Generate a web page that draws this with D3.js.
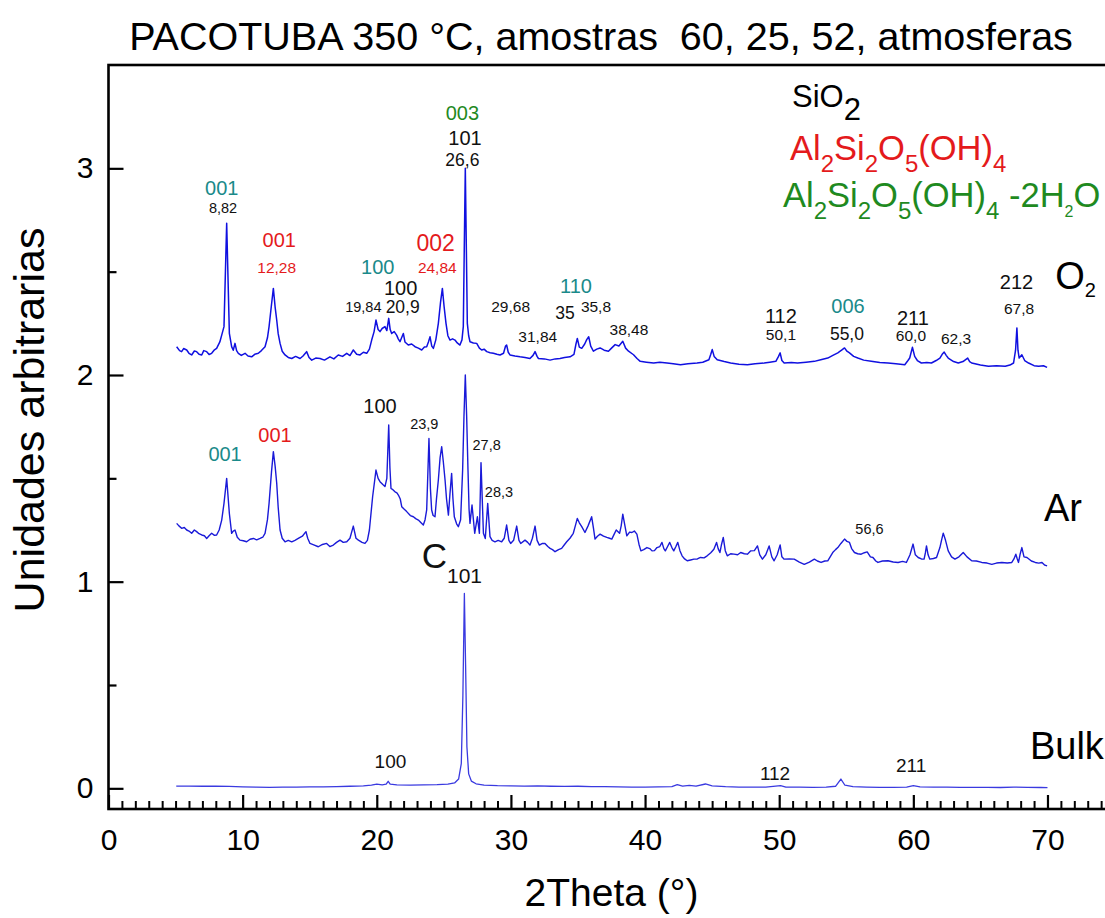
<!DOCTYPE html>
<html>
<head>
<meta charset="utf-8">
<script src="https://cdn.jsdelivr.net/npm/d3@7"></script>
<style>
  body { margin: 0; background: #fff; }
  text { font-family: "Liberation Sans", Arial, sans-serif; }
</style>
</head>
<body>
<svg width="1105" height="918"></svg>
<script>
// ---- data: [2theta, intensity (a.u., stacked)] ----
var o2Pattern = [[5.08,2.137],[5.3,2.118],[5.45,2.113],[5.6,2.128],[5.83,2.121],[6.0,2.105],[6.2,2.097],[6.4,2.116],[6.57,2.113],[6.75,2.1],[6.95,2.097],[7.1,2.118],[7.32,2.113],[7.5,2.099],[7.69,2.105],[7.9,2.122],[8.06,2.129],[8.3,2.16],[8.44,2.193],[8.61,2.234],[8.81,2.734],[9.01,2.201],[9.18,2.137],[9.3,2.12],[9.43,2.153],[9.55,2.118],[9.68,2.105],[9.9,2.095],[10.18,2.105],[10.4,2.092],[10.67,2.088],[10.9,2.1],[11.17,2.105],[11.4,2.118],[11.67,2.137],[11.85,2.18],[11.97,2.234],[12.15,2.34],[12.29,2.419],[12.42,2.33],[12.54,2.266],[12.65,2.2],[12.79,2.153],[12.95,2.115],[13.16,2.097],[13.4,2.085],[13.66,2.08],[13.95,2.09],[14.28,2.08],[14.5,2.092],[14.77,2.113],[14.95,2.085],[15.15,2.072],[15.45,2.082],[15.77,2.08],[16.1,2.072],[16.51,2.088],[16.8,2.078],[17.13,2.097],[17.45,2.09],[17.76,2.105],[18.0,2.094],[18.25,2.121],[18.5,2.1],[18.75,2.097],[19.0,2.11],[19.25,2.105],[19.45,2.125],[19.62,2.169],[19.8,2.21],[19.94,2.266],[20.1,2.22],[20.24,2.21],[20.4,2.225],[20.61,2.234],[20.75,2.215],[20.89,2.274],[21.0,2.22],[21.11,2.201],[21.3,2.21],[21.48,2.193],[21.6,2.175],[21.73,2.161],[21.85,2.18],[21.98,2.201],[22.1,2.16],[22.35,2.145],[22.6,2.15],[22.85,2.137],[23.1,2.13],[23.35,2.121],[23.55,2.135],[23.72,2.137],[23.85,2.16],[23.97,2.185],[24.1,2.14],[24.22,2.129],[24.4,2.17],[24.59,2.25],[24.75,2.35],[24.89,2.419],[25.02,2.33],[25.16,2.25],[25.3,2.19],[25.46,2.169],[25.65,2.175],[25.83,2.169],[26.0,2.155],[26.2,2.145],[26.35,2.17],[26.45,2.234],[26.52,2.6],[26.6,3.0],[26.68,2.6],[26.75,2.25],[26.85,2.19],[26.95,2.161],[27.2,2.155],[27.45,2.153],[27.65,2.13],[27.82,2.121],[28.0,2.125],[28.2,2.113],[28.45,2.108],[28.69,2.105],[28.95,2.1],[29.19,2.097],[29.45,2.105],[29.6,2.14],[29.68,2.145],[29.8,2.11],[29.93,2.097],[30.3,2.092],[30.68,2.088],[31.05,2.085],[31.42,2.08],[31.65,2.095],[31.8,2.113],[31.95,2.09],[32.05,2.08],[32.5,2.078],[32.92,2.072],[33.3,2.078],[33.66,2.08],[34.0,2.085],[34.41,2.088],[34.7,2.1],[34.85,2.15],[34.95,2.177],[35.1,2.135],[35.28,2.129],[35.5,2.15],[35.65,2.171],[35.8,2.185],[35.95,2.14],[36.15,2.115],[36.4,2.125],[36.65,2.131],[36.95,2.12],[37.27,2.115],[37.5,2.13],[37.77,2.147],[38.05,2.14],[38.34,2.163],[38.55,2.13],[38.77,2.115],[39.14,2.098],[39.4,2.08],[39.64,2.066],[40.1,2.062],[40.64,2.058],[41.1,2.062],[41.64,2.058],[42.1,2.054],[42.64,2.05],[43.2,2.055],[43.88,2.058],[44.3,2.062],[44.76,2.074],[44.9,2.1],[45.01,2.123],[45.15,2.09],[45.38,2.074],[45.9,2.065],[46.38,2.058],[47.0,2.052],[47.63,2.05],[48.2,2.055],[48.88,2.058],[49.3,2.062],[49.75,2.066],[49.95,2.09],[50.07,2.107],[50.2,2.07],[50.37,2.058],[50.9,2.06],[51.37,2.058],[52.0,2.062],[52.62,2.066],[53.1,2.074],[53.62,2.082],[54.0,2.095],[54.37,2.107],[54.65,2.12],[54.87,2.131],[55.05,2.115],[55.24,2.107],[55.55,2.09],[55.86,2.082],[56.3,2.072],[56.86,2.066],[57.5,2.06],[58.11,2.058],[58.7,2.054],[59.36,2.05],[59.6,2.07],[59.73,2.082],[59.93,2.134],[60.1,2.09],[60.3,2.07],[60.6,2.058],[61.0,2.06],[61.35,2.058],[61.7,2.07],[61.98,2.082],[62.15,2.1],[62.3,2.111],[62.45,2.095],[62.6,2.082],[63.0,2.065],[63.35,2.058],[63.7,2.065],[64.05,2.082],[64.2,2.065],[64.35,2.058],[65.0,2.048],[65.6,2.042],[66.2,2.045],[66.85,2.042],[67.2,2.048],[67.47,2.058],[67.62,2.12],[67.72,2.228],[67.8,2.12],[67.89,2.082],[68.09,2.098],[68.3,2.07],[68.59,2.058],[69.0,2.045],[69.34,2.042],[69.7,2.045],[69.97,2.037]];

var arPattern = [[5.08,1.282],[5.25,1.27],[5.45,1.258],[5.65,1.262],[5.83,1.25],[6.0,1.245],[6.2,1.234],[6.4,1.25],[6.57,1.242],[6.75,1.232],[6.95,1.226],[7.15,1.222],[7.32,1.209],[7.5,1.222],[7.69,1.234],[7.9,1.224],[8.06,1.226],[8.25,1.25],[8.44,1.298],[8.61,1.379],[8.81,1.5],[9.01,1.33],[9.18,1.234],[9.3,1.245],[9.43,1.25],[9.6,1.215],[9.8,1.201],[10.05,1.198],[10.3,1.193],[10.55,1.205],[10.8,1.209],[11.05,1.202],[11.3,1.209],[11.5,1.215],[11.67,1.234],[11.85,1.3],[11.97,1.379],[12.15,1.53],[12.29,1.629],[12.42,1.56],[12.54,1.476],[12.65,1.36],[12.79,1.25],[12.95,1.21],[13.16,1.193],[13.4,1.2],[13.66,1.193],[13.9,1.2],[14.15,1.209],[14.45,1.22],[14.72,1.242],[14.85,1.21],[15.02,1.185],[15.3,1.178],[15.64,1.169],[15.95,1.18],[16.26,1.185],[16.5,1.17],[16.76,1.177],[17.0,1.19],[17.26,1.201],[17.5,1.19],[17.76,1.193],[18.0,1.21],[18.25,1.269],[18.45,1.21],[18.63,1.201],[18.9,1.19],[19.12,1.185],[19.3,1.2],[19.45,1.25],[19.69,1.411],[19.94,1.54],[20.1,1.5],[20.24,1.484],[20.45,1.47],[20.61,1.46],[20.75,1.5],[20.89,1.758],[20.98,1.55],[21.06,1.451],[21.2,1.445],[21.36,1.435],[21.5,1.43],[21.61,1.419],[21.75,1.4],[21.86,1.363],[22.05,1.35],[22.23,1.339],[22.5,1.32],[22.73,1.314],[22.9,1.305],[23.1,1.298],[23.3,1.285],[23.47,1.274],[23.6,1.3],[23.72,1.347],[23.89,1.693],[24.0,1.45],[24.09,1.347],[24.2,1.32],[24.34,1.314],[24.45,1.4],[24.59,1.492],[24.72,1.6],[24.84,1.653],[24.96,1.58],[25.09,1.492],[25.2,1.4],[25.34,1.322],[25.45,1.42],[25.58,1.524],[25.68,1.4],[25.78,1.314],[25.95,1.28],[26.08,1.266],[26.25,1.3],[26.4,1.54],[26.5,1.8],[26.6,2.0],[26.7,1.8],[26.8,1.54],[26.88,1.35],[26.95,1.282],[27.1,1.371],[27.3,1.234],[27.5,1.314],[27.65,1.234],[27.77,1.576],[27.95,1.234],[28.09,1.209],[28.27,1.379],[28.44,1.218],[28.6,1.2],[28.81,1.193],[29.05,1.2],[29.31,1.193],[29.5,1.21],[29.68,1.274],[29.85,1.2],[29.98,1.185],[30.2,1.2],[30.43,1.269],[30.6,1.2],[30.73,1.185],[31.05,1.201],[31.25,1.19],[31.42,1.177],[31.6,1.21],[31.8,1.269],[31.95,1.2],[32.12,1.177],[32.35,1.185],[32.54,1.185],[32.75,1.17],[32.92,1.161],[33.1,1.155],[33.29,1.145],[33.55,1.155],[33.78,1.161],[34.0,1.18],[34.16,1.193],[34.4,1.21],[34.65,1.234],[34.8,1.27],[34.95,1.306],[35.1,1.285],[35.28,1.266],[35.52,1.238],[35.75,1.27],[36.02,1.314],[36.15,1.26],[36.27,1.206],[36.45,1.22],[36.65,1.23],[36.9,1.22],[37.15,1.214],[37.35,1.21],[37.52,1.206],[37.7,1.23],[37.85,1.25],[38.1,1.234],[38.22,1.27],[38.34,1.327],[38.5,1.27],[38.64,1.222],[38.85,1.24],[39.02,1.238],[39.2,1.245],[39.39,1.23],[39.55,1.18],[39.69,1.149],[39.9,1.155],[40.14,1.165],[40.35,1.16],[40.52,1.149],[40.7,1.15],[40.89,1.165],[41.1,1.17],[41.26,1.19],[41.4,1.16],[41.51,1.149],[41.68,1.17],[41.84,1.19],[42.0,1.165],[42.14,1.149],[42.3,1.17],[42.44,1.19],[42.6,1.15],[42.76,1.125],[42.95,1.11],[43.14,1.101],[43.4,1.105],[43.64,1.109],[43.9,1.11],[44.13,1.117],[44.4,1.115],[44.63,1.125],[44.9,1.14],[45.13,1.157],[45.33,1.19],[45.45,1.16],[45.58,1.141],[45.7,1.18],[45.83,1.214],[45.98,1.15],[46.13,1.125],[46.38,1.135],[46.63,1.133],[46.9,1.13],[47.13,1.141],[47.4,1.135],[47.63,1.133],[47.88,1.149],[48.15,1.15],[48.38,1.173],[48.55,1.13],[48.75,1.109],[49.0,1.13],[49.25,1.173],[49.45,1.12],[49.62,1.101],[49.85,1.13],[50.07,1.178],[50.2,1.12],[50.37,1.109],[50.75,1.11],[51.12,1.109],[51.5,1.095],[51.87,1.084],[52.25,1.095],[52.62,1.109],[52.85,1.1],[53.12,1.093],[53.4,1.1],[53.62,1.101],[53.8,1.12],[53.99,1.141],[54.2,1.155],[54.37,1.165],[54.6,1.185],[54.87,1.206],[55.05,1.195],[55.24,1.19],[55.4,1.16],[55.61,1.141],[55.85,1.135],[56.11,1.133],[56.35,1.14],[56.56,1.144],[56.8,1.12],[56.99,1.117],[57.2,1.1],[57.36,1.093],[57.7,1.1],[58.11,1.101],[58.5,1.095],[58.86,1.093],[59.2,1.098],[59.48,1.093],[59.75,1.13],[59.98,1.182],[60.15,1.13],[60.36,1.117],[60.6,1.11],[60.8,1.109],[60.9,1.14],[60.98,1.173],[61.1,1.13],[61.23,1.109],[61.5,1.112],[61.73,1.117],[61.98,1.165],[62.1,1.2],[62.23,1.235],[62.4,1.2],[62.6,1.149],[62.85,1.12],[63.1,1.109],[63.4,1.12],[63.72,1.141],[64.0,1.12],[64.35,1.101],[64.7,1.1],[65.1,1.093],[65.5,1.09],[65.85,1.084],[66.2,1.09],[66.6,1.093],[67.0,1.09],[67.34,1.093],[67.5,1.11],[67.64,1.133],[67.75,1.11],[67.84,1.093],[67.95,1.13],[68.09,1.165],[68.25,1.12],[68.47,1.117],[68.8,1.1],[69.09,1.093],[69.35,1.09],[69.59,1.093],[69.8,1.08],[69.97,1.076]];

var bulkPattern = [[5.05,0.011],[6,0.011],[7,0.01],[8,0.01],[9,0.009],[10,0.007],[11,0.006],[12,0.005],[13,0.006],[14,0.006],[15,0.007],[16,0.007],[17,0.008],[18,0.01],[19,0.012],[19.6,0.016],[20.0,0.02],[20.4,0.017],[20.7,0.02],[20.85,0.034],[21.0,0.02],[21.5,0.017],[22.5,0.016],[23.5,0.017],[24.5,0.018],[25.3,0.02],[25.8,0.026],[26.1,0.045],[26.3,0.12],[26.42,0.45],[26.53,0.943],[26.62,0.6],[26.72,0.2],[26.85,0.07],[27.05,0.035],[27.4,0.022],[28,0.016],[29,0.013],[30,0.012],[31,0.011],[32,0.012],[33,0.01],[34,0.009],[35,0.01],[36,0.008],[37,0.008],[38,0.007],[39,0.006],[40,0.006],[41,0.007],[42,0.008],[42.4,0.018],[42.8,0.011],[43.3,0.014],[43.8,0.011],[44.5,0.021],[45.0,0.012],[46,0.008],[47,0.006],[48,0.006],[49,0.006],[50.1,0.013],[50.5,0.006],[51.5,0.006],[52.5,0.005],[53.5,0.006],[54.2,0.01],[54.6,0.045],[54.9,0.015],[55.5,0.008],[56.5,0.006],[57.5,0.005],[58.5,0.005],[59.5,0.006],[60,0.013],[60.5,0.007],[61.5,0.006],[62.5,0.006],[63.5,0.005],[64.5,0.005],[65.5,0.005],[66.5,0.004],[67.5,0.006],[68.5,0.005],[69.5,0.004],[70,0.003]];

// tick values
var xMajorTicks = [0, 10, 20, 30, 40, 50, 60, 70];
var yMajorTicks = [0, 1, 2, 3];
var yMinorTicks = [0.5, 1.5, 2.5];

// peak labels: [text, 2theta, height, phase, kind]
// phase: q = SiO2 (black), k = kaolinite (red), h = halloysite (teal), g = green
var o2Labels = [
  ["001", 8.44, 2.871, "h", "hkl"], ["8,82", 8.54, 2.782, "q", "small"],
  ["001", 12.73, 2.621, "k", "hkl"], ["12,28", 12.54, 2.492, "k", "pos"],
  ["100", 20.07, 2.489, "h", "hkl"], ["100", 21.78, 2.387, "q", "hkl"],
  ["19,84", 19.0, 2.303, "q", "small"], ["20,9", 21.93, 2.298, "q", "pos2"],
  ["002", 24.39, 2.600, "k", "hklBig"], ["24,84", 24.51, 2.492, "k", "pos"],
  ["003", 26.38, 3.234, "g", "hkl"], ["101", 26.58, 3.113, "q", "hkl"], ["26,6", 26.38, 3.011, "q", "pos2"],
  ["29,68", 29.98, 2.303, "q", "pos"], ["31,84", 32.0, 2.158, "q", "pos"],
  ["110", 34.85, 2.395, "h", "hkl"], ["35", 34.03, 2.269, "q", "pos2"], ["35,8", 36.34, 2.305, "q", "pos"],
  ["38,48", 38.8, 2.192, "q", "pos"],
  ["112", 50.13, 2.252, "q", "hkl"], ["50,1", 50.13, 2.170, "q", "pos"],
  ["006", 55.13, 2.301, "h", "hkl"], ["55,0", 55.05, 2.168, "q", "pos2"],
  ["211", 59.97, 2.244, "q", "hkl"], ["60,0", 59.82, 2.166, "q", "pos"],
  ["62,3", 63.18, 2.152, "q", "pos"],
  ["212", 67.69, 2.414, "q", "hkl"], ["67,8", 67.88, 2.293, "q", "pos"]
];
var arLabels = [
  ["001", 8.69, 1.585, "h", "hkl"], ["001", 12.41, 1.677, "k", "hkl"], ["100", 20.24, 1.817, "q", "hkl"],
  ["23,9", 23.54, 1.737, "q", "small"], ["27,8", 28.19, 1.637, "q", "small"], ["28,3", 29.11, 1.411, "q", "small"],
  ["56,6", 56.73, 1.230, "q", "small"]
];
var bulkLabels = [
  ["100", 21.02, 0.100, "q", "hklS"], ["112", 49.69, 0.040, "q", "hklS"], ["211", 59.83, 0.080, "q", "hklS"]
];
var sampleNames = [["O", "2", 70.57, 2.416], ["Ar", "", 69.74, 1.293], ["Bulk", "", 68.69, 0.142]];

var phaseColor = { q: "#111", k: "#e41a1c", h: "#1a8a8a", g: "#1f8a1f" };
var kindSize = { hkl: 20, hklBig: 23, hklS: 19, pos: 15.5, pos2: 17.5, small: 14.5 };

var svg = d3.select("svg");
var width = 1105, height = 918;
var margin = { top: 65, left: 108.5 };
var innerW = 75 * 13.414;       // axis runs to 75, cut off at the right edge
var innerH = 744;

var x = d3.scaleLinear().domain([0, 75]).range([0, innerW]);
var y = d3.scaleLinear().domain([-0.1, 3.5]).range([innerH, 0]);

var g = svg.append("g").attr("transform", "translate(" + margin.left + "," + margin.top + ")");

// title
svg.append("text")
  .attr("x", 601).attr("y", 50)
  .attr("text-anchor", "middle")
  .attr("font-size", 39.5)
  .text("PACOTUBA 350 \u00b0C, amostras\u00a0 60, 25, 52, atmosferas");

// traces
var line = d3.line().x(d => x(d[0])).y(d => y(d[1]));
g.append("path").datum(o2Pattern).attr("d", line)
  .attr("fill", "none").attr("stroke", "#1010e0").attr("stroke-width", 1.5).attr("stroke-linejoin", "round");
g.append("path").datum(arPattern).attr("d", line)
  .attr("fill", "none").attr("stroke", "#1a1ad8").attr("stroke-width", 1.4).attr("stroke-linejoin", "round");
g.append("path").datum(bulkPattern).attr("d", line)
  .attr("fill", "none").attr("stroke", "#3a3ae0").attr("stroke-width", 1.3).attr("stroke-linejoin", "round");

// axes: ticks point inward, labels outside
var xMinor = d3.range(0, 76, 1).filter(v => v % 10 !== 0);
g.append("g").attr("transform", "translate(0," + innerH + ")")
  .call(d3.axisBottom(x).tickValues(xMinor).tickSize(-8).tickFormat(""))
  .call(a => a.select(".domain").remove())
  .selectAll("line").attr("stroke", "#000").attr("stroke-width", 2);

var xAxis = g.append("g").attr("transform", "translate(0," + innerH + ")")
  .call(d3.axisBottom(x).tickValues(xMajorTicks).tickSize(-14).tickPadding(20).tickFormat(d3.format("d")));
xAxis.select(".domain").remove();
xAxis.selectAll("line").attr("stroke", "#000").attr("stroke-width", 2.2);
xAxis.selectAll("text").attr("font-size", 30).attr("fill", "#000")
  .style("font-family", "'Liberation Sans', Arial, sans-serif");

g.append("g")
  .call(d3.axisLeft(y).tickValues(yMinorTicks).tickSize(-8).tickFormat(""))
  .call(a => a.select(".domain").remove())
  .selectAll("line").attr("stroke", "#000").attr("stroke-width", 2.2);

var yAxis = g.append("g")
  .call(d3.axisLeft(y).tickValues(yMajorTicks).tickSize(-15).tickPadding(15).tickFormat(d3.format("d")));
yAxis.select(".domain").remove();
yAxis.selectAll("line").attr("stroke", "#000").attr("stroke-width", 2.2);
yAxis.selectAll("text").attr("font-size", 30).attr("fill", "#000")
  .style("font-family", "'Liberation Sans', Arial, sans-serif");

// frame
g.append("rect")
  .attr("x", 0).attr("y", 0).attr("width", innerW).attr("height", innerH)
  .attr("fill", "none").attr("stroke", "#000").attr("stroke-width", 2.6);

// axis titles
svg.append("text")
  .attr("x", margin.left + innerW / 2).attr("y", 906)
  .attr("text-anchor", "middle").attr("font-size", 39)
  .text("2Theta (\u00b0)");

svg.append("text")
  .attr("transform", "translate(44,420) rotate(-90)")
  .attr("text-anchor", "middle").attr("font-size", 43)
  .text("Unidades arbitrarias");

// peak labels
var allLabels = o2Labels.concat(arLabels, bulkLabels);
g.selectAll("text.peak")
  .data(allLabels)
  .enter().append("text")
  .attr("class", "peak")
  .attr("x", d => x(d[1]))
  .attr("y", d => y(d[2]))
  .attr("text-anchor", "middle")
  .attr("font-size", d => kindSize[d[4]])
  .attr("fill", d => phaseColor[d[3]])
  .text(d => d[0]);

// graphite label C_101 above the bulk peak
var cLabel = g.append("text")
  .attr("x", x(23.35)).attr("y", y(1.065))
  .attr("font-size", 35).attr("fill", "#111");
cLabel.append("tspan").text("C");
cLabel.append("tspan").attr("dy", 15).attr("font-size", 21).text("101");

// sample names
sampleNames.forEach(function(s) {
  var t = g.append("text")
    .attr("x", x(s[2])).attr("y", y(s[3]))
    .attr("font-size", 38).attr("fill", "#000");
  t.append("tspan").text(s[0]);
  if (s[1]) t.append("tspan").attr("dy", 8).attr("font-size", 20).text(s[1]);
});

// phase legend with sub-scripts
function formula(px, py, parts, size, color) {
  var t = svg.append("text").attr("x", px).attr("y", py)
    .attr("font-size", size).attr("fill", color);
  var down = 0;
  parts.forEach(function(p) {
    var shift = p[1] || 0;
    t.append("tspan")
      .attr("dy", shift - down)
      .attr("font-size", p[2] || size)
      .text(p[0]);
    down = shift;
  });
}
formula(792, 107, [["SiO"], ["2", 13]], 31, "#000");
formula(790, 160, [["Al"], ["2", 12, 24], ["Si"], ["2", 12, 24], ["O"], ["5", 12, 24], ["(OH)"], ["4", 12, 24]], 34.5, "#e41a1c");
formula(783, 207, [["Al"], ["2", 12, 24], ["Si"], ["2", 12, 24], ["O"], ["5", 12, 24], ["(OH)"], ["4", 12, 24],
  [" -2H"], ["2", 10, 16], ["O"]], 34.5, "#1f8a1f");
</script>
</body>
</html>
